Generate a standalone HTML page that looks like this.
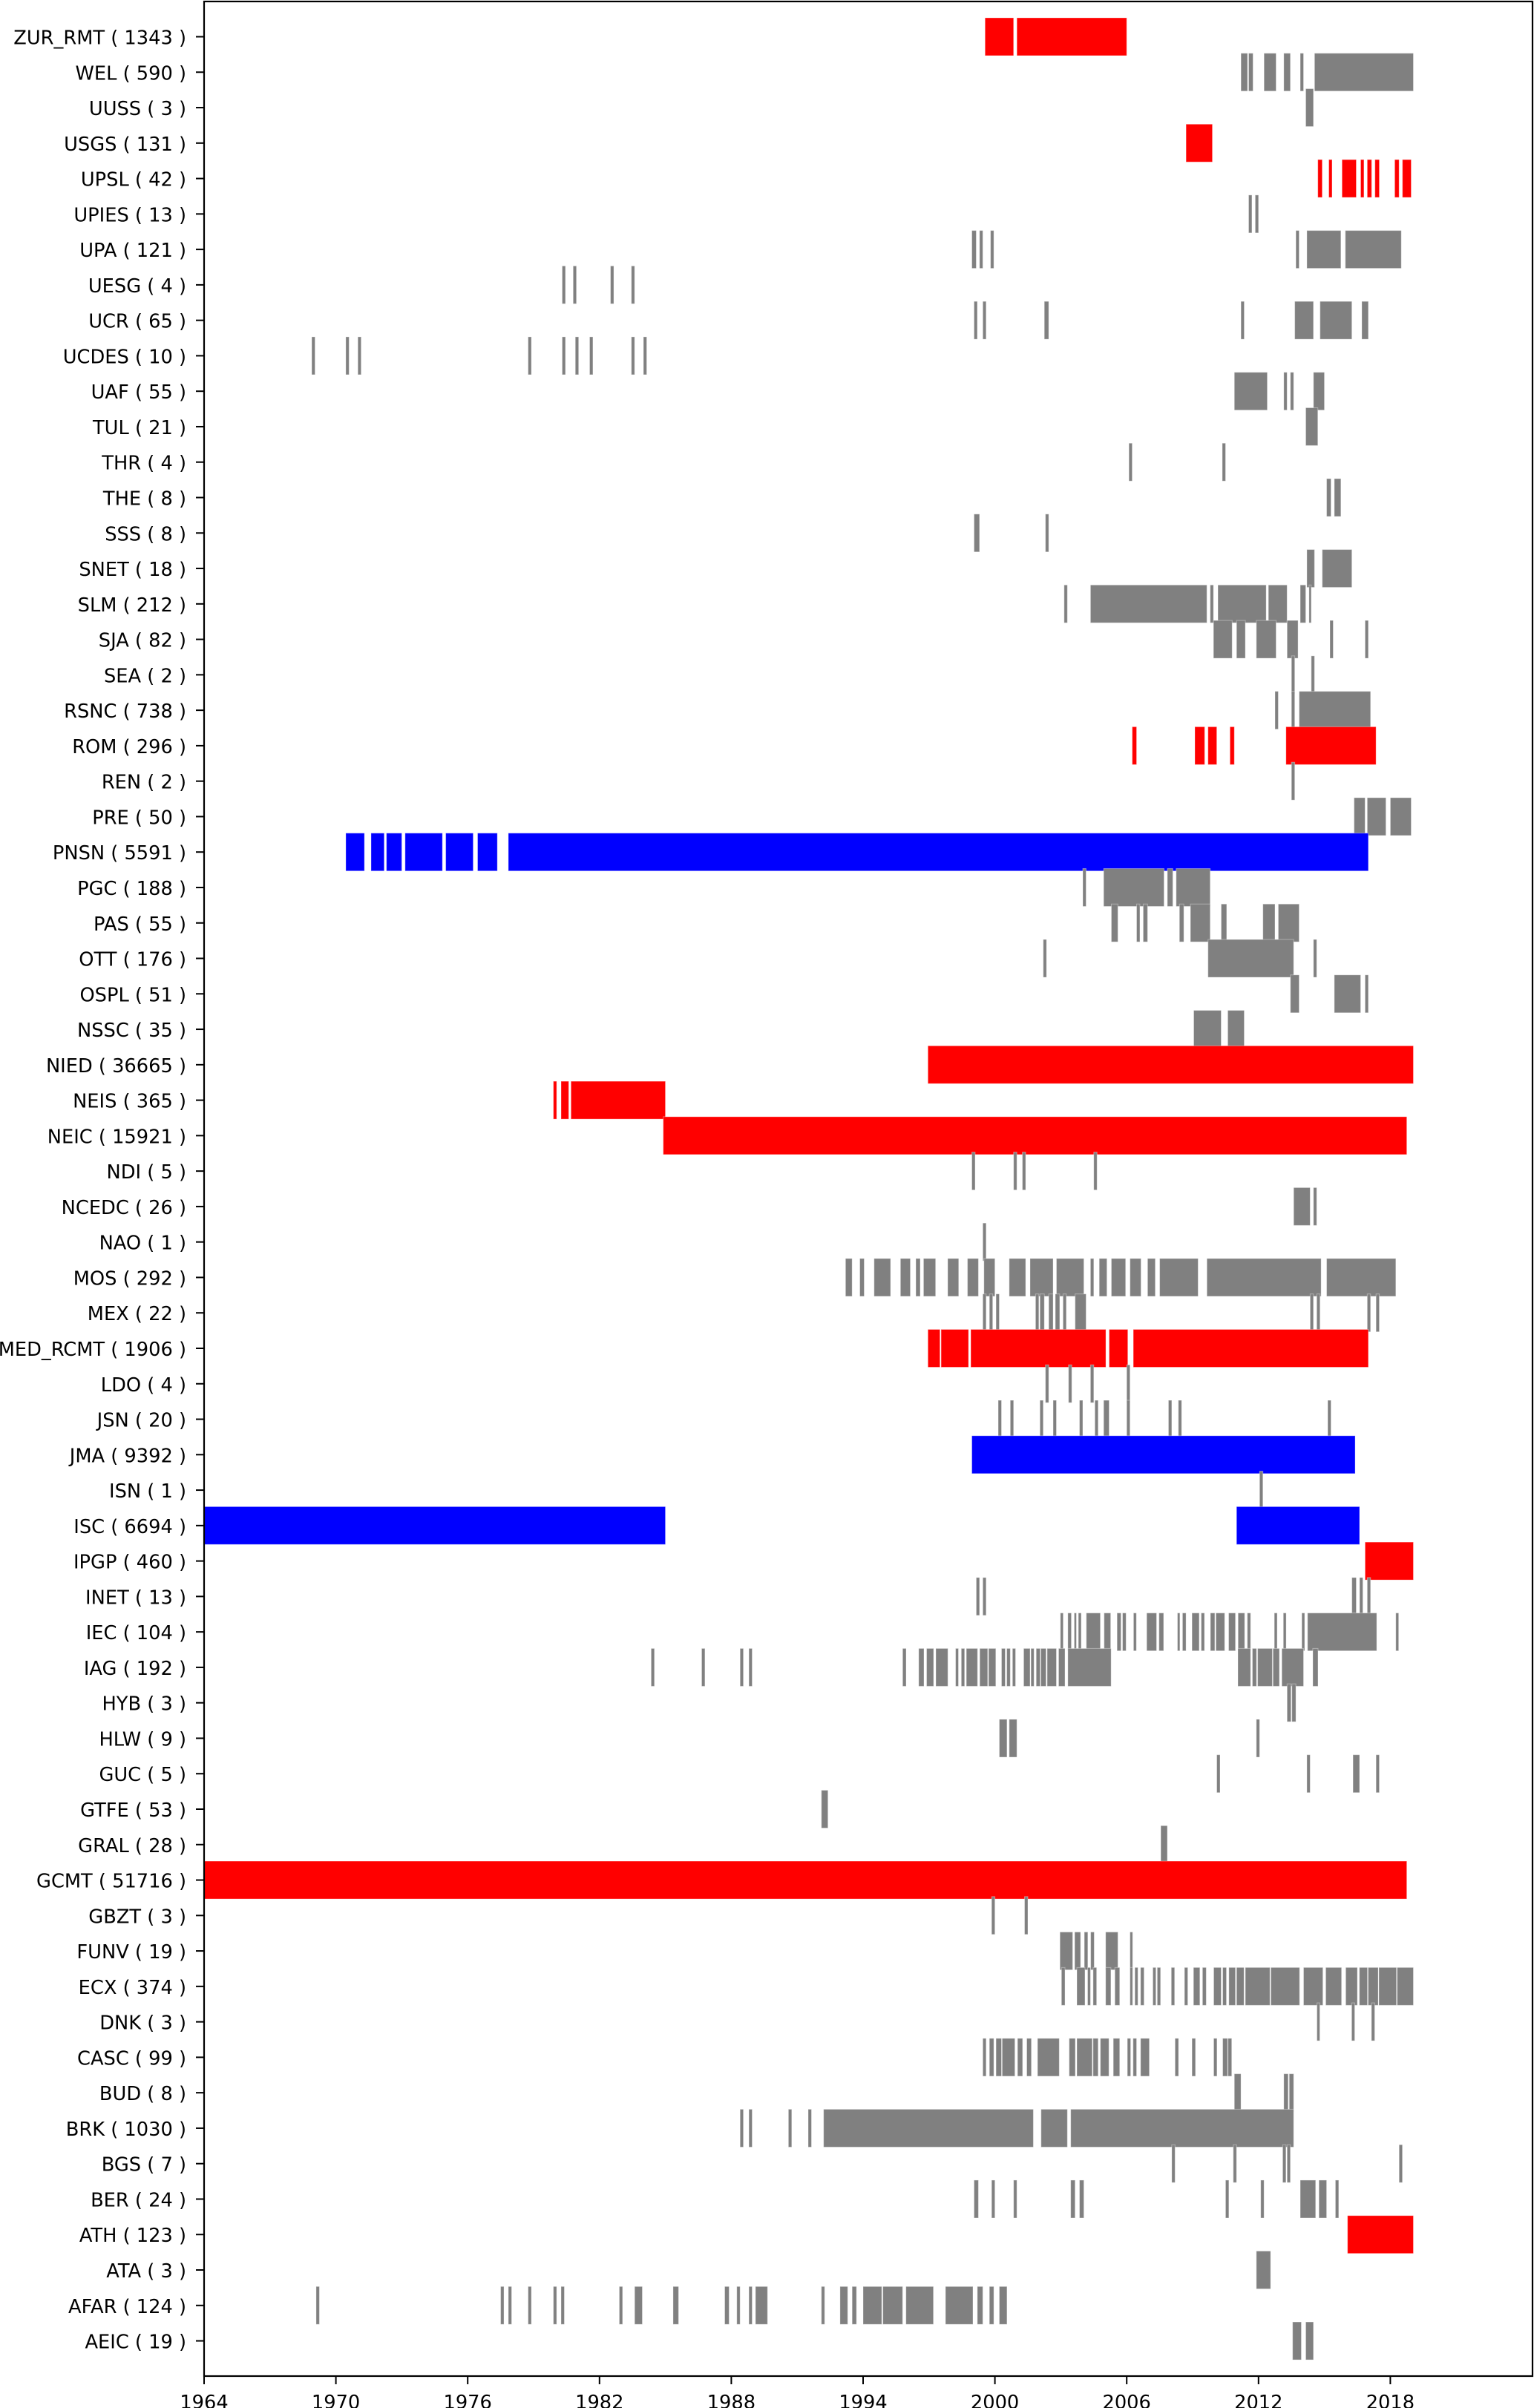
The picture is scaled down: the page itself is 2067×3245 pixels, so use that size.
<!DOCTYPE html>
<html><head><meta charset="utf-8"><title>Agency catalogue coverage</title>
<style>
html,body{margin:0;padding:0;background:#fff;}
svg{display:block;}
text{font-family:"DejaVu Sans","Liberation Sans",sans-serif;font-size:25.7px;fill:#000;}
</style></head>
<body>
<svg id="chart" xmlns="http://www.w3.org/2000/svg" width="2067" height="3245" viewBox="0 0 2067 3245">
<rect x="0" y="0" width="2067" height="3245" fill="#fff"/>
<g id="bars"></g>
<g id="axes"></g>
</svg>
<script>
const agencies = ["ZUR_RMT","WEL","UUSS","USGS","UPSL","UPIES","UPA","UESG","UCR","UCDES","UAF","TUL","THR","THE","SSS","SNET","SLM","SJA","SEA","RSNC","ROM","REN","PRE","PNSN","PGC","PAS","OTT","OSPL","NSSC","NIED","NEIS","NEIC","NDI","NCEDC","NAO","MOS","MEX","MED_RCMT","LDO","JSN","JMA","ISN","ISC","IPGP","INET","IEC","IAG","HYB","HLW","GUC","GTFE","GRAL","GCMT","GBZT","FUNV","ECX","DNK","CASC","BUD","BRK","BGS","BER","ATH","ATA","AFAR","AEIC"];
const counts = [1343,590,3,131,42,13,121,4,65,10,55,21,4,8,8,18,212,82,2,738,296,2,50,5591,188,55,176,51,35,36665,365,15921,5,26,1,292,22,1906,4,20,9392,1,6694,460,13,104,192,3,9,5,53,28,51716,3,19,374,3,99,8,1030,7,24,123,3,124,19];
const colors = ["r","g","g","r","r","g","g","g","g","g","g","g","g","g","g","g","g","g","g","g","r","g","g","b","g","g","g","g","g","r","r","r","g","g","g","g","g","r","g","g","b","g","b","r","g","g","g","g","g","g","g","g","r","g","g","g","g","g","g","g","g","g","r","g","g","g"];
const xTicks = [1964,1970,1976,1982,1988,1994,2000,2006,2012,2018];
const periods = [
[[1999.55,2000.85],[2001.0,2006.0]],
[[2011.2,2011.5],[2011.55,2011.75],[2012.25,2012.8],[2013.15,2013.45],[2013.9,2014.05],[2014.55,2019.05]],
[[2014.15,2014.5]],
[[2008.7,2009.9]],
[[2014.7,2014.9],[2015.2,2015.35],[2015.8,2016.45],[2016.65,2016.8],[2016.95,2017.15],[2017.3,2017.5],[2018.2,2018.4],[2018.55,2018.95]],
[[2011.55,2011.7],[2011.85,2012.0]],
[[1998.95,1999.15],[1999.3,1999.45],[1999.8,1999.95],[2013.7,2013.85],[2014.2,2015.75],[2015.95,2018.5]],
[[1980.3,1980.45],[1980.8,1980.95],[1982.5,1982.65],[1983.45,1983.6]],
[[1999.05,1999.2],[1999.45,1999.6],[2002.25,2002.45],[2011.2,2011.35],[2013.65,2014.5],[2014.8,2016.25],[2016.7,2017.0]],
[[1968.9,1969.05],[1970.45,1970.6],[1971.0,1971.15],[1978.75,1978.9],[1980.3,1980.45],[1980.9,1981.05],[1981.55,1981.7],[1983.45,1983.6],[1984.0,1984.15]],
[[2010.9,2012.4],[2013.15,2013.3],[2013.45,2013.6],[2014.5,2015.0]],
[[2014.15,2014.7]],
[[2006.1,2006.25],[2010.35,2010.5]],
[[2015.1,2015.3],[2015.45,2015.75]],
[[1999.05,1999.3],[2002.3,2002.45]],
[[2014.2,2014.55],[2014.9,2016.25]],
[[2003.15,2003.3],[2004.35,2009.65],[2009.8,2009.95],[2010.15,2012.35],[2012.45,2013.3],[2013.9,2014.15],[2014.3,2014.4]],
[[2009.95,2010.8],[2011.0,2011.4],[2011.9,2012.8],[2013.3,2013.8],[2015.25,2015.4],[2016.85,2017.0]],
[[2013.5,2013.65],[2014.4,2014.55]],
[[2012.75,2012.9],[2013.5,2013.65],[2013.85,2017.1]],
[[2006.25,2006.45],[2009.1,2009.55],[2009.7,2010.1],[2010.7,2010.9],[2013.25,2017.35]],
[[2013.5,2013.65]],
[[2016.35,2016.85],[2016.95,2017.8],[2018.0,2018.95]],
[[1970.45,1971.3],[1971.6,1972.2],[1972.3,1973.0],[1973.15,1974.85],[1975.0,1976.25],[1976.45,1977.35],[1977.85,2017.0]],
[[2004.0,2004.15],[2004.95,2007.7],[2007.85,2008.1],[2008.25,2009.8]],
[[2005.3,2005.6],[2006.45,2006.6],[2006.75,2006.95],[2008.4,2008.6],[2008.9,2009.8],[2010.3,2010.55],[2012.2,2012.75],[2012.9,2013.85]],
[[2002.2,2002.35],[2009.7,2013.6],[2014.5,2014.65]],
[[2013.45,2013.85],[2015.45,2016.65],[2016.85,2017.0]],
[[2009.05,2010.3],[2010.6,2011.35]],
[[1996.95,2019.05]],
[[1979.9,1980.05],[1980.25,1980.6],[1980.7,1985.0]],
[[1984.9,2018.75]],
[[1998.95,1999.1],[2000.85,2001.0],[2001.25,2001.4],[2004.5,2004.65]],
[[2013.6,2014.35],[2014.5,2014.65]],
[[1999.45,1999.6]],
[[1993.2,1993.5],[1993.85,1994.05],[1994.5,1995.25],[1995.7,1996.15],[1996.4,1996.6],[1996.75,1997.3],[1997.85,1998.35],[1998.75,1999.25],[1999.5,2000.0],[2000.65,2001.4],[2001.6,2002.65],[2002.8,2004.05],[2004.35,2004.5],[2004.75,2005.1],[2005.3,2005.95],[2006.15,2006.65],[2006.95,2007.3],[2007.5,2009.25],[2009.65,2014.85],[2015.1,2018.25]],
[[1999.45,1999.6],[1999.75,1999.9],[2000.05,2000.2],[2001.85,2002.0],[2002.05,2002.25],[2002.45,2002.65],[2002.75,2002.95],[2003.1,2003.25],[2003.65,2004.15],[2014.35,2014.5],[2014.65,2014.8],[2016.95,2017.1],[2017.35,2017.5]],
[[1996.95,1997.5],[1997.55,1998.8],[1998.9,2005.05],[2005.2,2006.05],[2006.3,2017.0]],
[[2002.3,2002.45],[2003.35,2003.5],[2004.35,2004.5],[2006.0,2006.15]],
[[2000.15,2000.3],[2000.7,2000.85],[2002.05,2002.2],[2002.65,2002.8],[2003.85,2004.0],[2004.55,2004.7],[2004.95,2005.2],[2006.0,2006.15],[2007.9,2008.05],[2008.35,2008.5],[2015.15,2015.3]],
[[1998.95,2016.4]],
[[2012.05,2012.2]],
[[1964.0,1985.0],[2011.0,2016.6]],
[[2016.85,2019.05]],
[[1999.15,1999.3],[1999.45,1999.6],[2016.25,2016.45],[2016.6,2016.75],[2016.95,2017.1]],
[[2002.98,2003.11],[2003.32,2003.48],[2003.61,2003.71],[2003.8,2003.93],[2004.16,2004.8],[2004.97,2005.27],[2005.56,2005.74],[2005.81,2005.97],[2006.31,2006.44],[2006.91,2007.36],[2007.47,2007.68],[2008.31,2008.42],[2008.54,2008.7],[2008.97,2009.3],[2009.39,2009.54],[2009.81,2010.01],[2010.06,2010.46],[2010.64,2010.95],[2011.07,2011.37],[2011.49,2011.64],[2012.72,2012.85],[2013.13,2013.26],[2013.97,2014.1],[2014.23,2017.38],[2018.25,2018.38]],
[[1984.35,1984.5],[1986.65,1986.8],[1988.4,1988.55],[1988.8,1988.95],[1995.8,1995.96],[1996.53,1996.77],[1996.89,1997.21],[1997.31,1997.86],[1998.21,1998.34],[1998.47,1998.62],[1998.7,1999.21],[1999.31,1999.67],[1999.71,2000.04],[2000.3,2000.47],[2000.54,2000.7],[2000.8,2000.94],[2001.31,2001.6],[2001.64,2001.78],[2001.88,2002.06],[2002.09,2002.33],[2002.38,2002.8],[2002.9,2003.19],[2003.32,2005.29],[2011.06,2011.64],[2011.72,2011.91],[2011.96,2012.63],[2012.66,2012.95],[2013.06,2014.05],[2014.47,2014.71]],
[[2013.3,2013.48],[2013.52,2013.7]],
[[2000.2,2000.55],[2000.65,2001.0],[2011.9,2012.05]],
[[2010.1,2010.25],[2014.2,2014.35],[2016.3,2016.6],[2017.35,2017.5]],
[[1992.1,1992.4]],
[[2007.55,2007.85]],
[[1964.0,2018.75]],
[[1999.85,2000.0],[2001.35,2001.5]],
[[2002.96,2003.54],[2003.63,2003.9],[2004.07,2004.23],[2004.36,2004.52],[2005.04,2005.6],[2006.15,2006.27]],
[[2003.03,2003.19],[2003.73,2004.1],[2004.22,2004.35],[2004.47,2004.63],[2005.04,2005.28],[2005.46,2005.68],[2006.15,2006.27],[2006.37,2006.51],[2006.63,2006.79],[2007.19,2007.33],[2007.39,2007.54],[2008.03,2008.18],[2008.63,2008.78],[2009.04,2009.33],[2009.45,2009.62],[2009.96,2010.3],[2010.37,2010.54],[2010.65,2010.95],[2011.0,2011.34],[2011.4,2012.52],[2012.56,2013.87],[2014.05,2014.93],[2015.06,2015.78],[2015.97,2016.5],[2016.59,2016.96],[2016.99,2017.45],[2017.48,2018.28],[2018.31,2019.05]],
[[2014.66,2014.79],[2016.24,2016.38],[2017.14,2017.29]],
[[1999.45,1999.6],[1999.75,1999.95],[2000.05,2000.3],[2000.33,2000.91],[2001.03,2001.26],[2001.45,2001.66],[2001.94,2002.93],[2003.38,2003.66],[2003.73,2004.43],[2004.47,2004.7],[2004.8,2005.19],[2005.39,2005.68],[2006.03,2006.18],[2006.29,2006.45],[2006.63,2007.03],[2008.2,2008.36],[2008.97,2009.13],[2009.96,2010.11],[2010.37,2010.59],[2010.61,2010.78]],
[[2010.9,2011.2],[2013.15,2013.35],[2013.4,2013.6]],
[[1988.4,1988.55],[1988.8,1988.95],[1990.6,1990.75],[1991.5,1991.65],[1992.2,2001.75],[2002.1,2003.3],[2003.45,2013.6]],
[[2008.05,2008.2],[2010.85,2011.0],[2013.1,2013.25],[2013.3,2013.45],[2018.4,2018.55]],
[[1999.05,1999.25],[1999.85,2000.0],[2000.85,2001.0],[2003.45,2003.65],[2003.85,2004.05],[2010.5,2010.65],[2012.1,2012.25],[2013.9,2014.6],[2014.75,2015.1],[2015.5,2015.65]],
[[2016.05,2019.05]],
[[2011.9,2012.55]],
[[1969.1,1969.25],[1977.5,1977.65],[1977.85,1978.0],[1978.75,1978.9],[1979.9,1980.05],[1980.25,1980.4],[1982.9,1983.05],[1983.6,1983.95],[1985.35,1985.6],[1987.7,1987.9],[1988.25,1988.4],[1988.8,1988.95],[1989.1,1989.65],[1992.1,1992.25],[1992.95,1993.3],[1993.5,1993.7],[1994.0,1994.85],[1994.9,1995.8],[1995.95,1997.2],[1997.75,1999.0],[1999.2,1999.45],[1999.75,1999.95],[2000.2,2000.55]],
[[2013.55,2013.95],[2014.15,2014.5]]
];

const NS = "http://www.w3.org/2000/svg";
const X0 = 275, PX_PER_YEAR = 29.6, XMIN = 1964;
const PLOT_L = 275, PLOT_R = 2065, PLOT_T = 2, PLOT_B = 3202;
const ROW0 = 49.5, ROW_STEP = 47.77, BAR_H = 51;
const fill = {r:"#ff0000", b:"#0000ff", g:"#808080"};
function xs(year){ return X0 + (year - XMIN) * PX_PER_YEAR; }
function ys(i){ return ROW0 + i * ROW_STEP; }

const barsG = document.getElementById("bars");
const axesG = document.getElementById("axes");

agencies.forEach(function(name, i){
  const g = document.createElementNS(NS, "g");
  
  
  periods[i].forEach(function(p){
    const r = document.createElementNS(NS, "rect");
    
    
    const x1 = xs(p[0]), x2 = xs(p[1]);
    r.setAttribute("x", x1);
    r.setAttribute("y", ys(i) - BAR_H / 2);
    r.setAttribute("width", Math.max(x2 - x1, 2));
    r.setAttribute("height", BAR_H);
    r.setAttribute("fill", fill[colors[i]]);
    r.setAttribute("stroke", "rgba(255,255,255,0.35)");
    r.setAttribute("stroke-width", "1");
    g.appendChild(r);
  });
  barsG.appendChild(g);

  const t = document.createElementNS(NS, "line");
  
  
  t.setAttribute("x1", PLOT_L - 11); t.setAttribute("x2", PLOT_L);
  t.setAttribute("y1", ys(i)); t.setAttribute("y2", ys(i));
  t.setAttribute("stroke", "#000"); t.setAttribute("stroke-width", "2");
  axesG.appendChild(t);

  const lab = document.createElementNS(NS, "text");
  
  
  lab.setAttribute("x", PLOT_L - 24);
  lab.setAttribute("y", ys(i) + 10);
  lab.setAttribute("text-anchor", "end");
  lab.textContent = name + " ( " + counts[i] + " )";
  axesG.appendChild(lab);
});

xTicks.forEach(function(yr){
  const t = document.createElementNS(NS, "line");
  
  
  t.setAttribute("x1", xs(yr)); t.setAttribute("x2", xs(yr));
  t.setAttribute("y1", PLOT_B); t.setAttribute("y2", PLOT_B + 11);
  t.setAttribute("stroke", "#000"); t.setAttribute("stroke-width", "2");
  axesG.appendChild(t);
  const lab = document.createElementNS(NS, "text");
  
  
  lab.setAttribute("x", xs(yr));
  lab.setAttribute("y", 3246);
  lab.setAttribute("text-anchor", "middle");
  lab.textContent = yr;
  axesG.appendChild(lab);
});

const frame = document.createElementNS(NS, "rect");


frame.setAttribute("x", PLOT_L); frame.setAttribute("y", PLOT_T);
frame.setAttribute("width", PLOT_R - PLOT_L); frame.setAttribute("height", PLOT_B - PLOT_T);
frame.setAttribute("fill", "none"); frame.setAttribute("stroke", "#000"); frame.setAttribute("stroke-width", "2.2");
axesG.appendChild(frame);
</script>
</body></html>
